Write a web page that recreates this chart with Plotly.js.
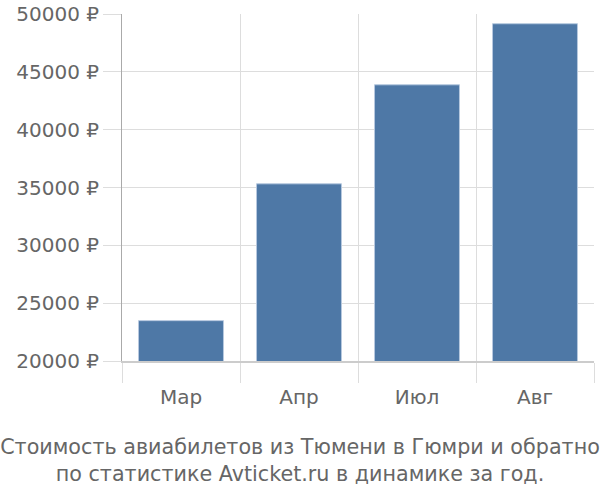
<!DOCTYPE html>
<html>
<head>
<meta charset="utf-8">
<script src="https://cdn.plot.ly/plotly-3.0.1.min.js"></script>
<style>
  html, body { margin: 0; padding: 0; background: #fff; }
  #chart { width: 600px; height: 500px; }
</style>
</head>
<body>
<div id="chart"></div>
<script>
// месяцы и средняя стоимость билетов
var months = ['Мар', 'Апр', 'Июл', 'Авг'];
var prices = [23490, 35320, 43880, 49160];
var yTicks = [20000, 25000, 30000, 35000, 40000, 45000, 50000];

var trace = {
  x: months,
  y: prices,
  type: 'bar',
  marker: { color: '#4e78a6', line: { color: '#b7c9df', width: 1 } },
  hoverinfo: 'x+y'
};

var layout = {
  width: 600,
  height: 500,
  margin: { l: 122, r: 6, t: 14, b: 138.5 },
  paper_bgcolor: '#fff',
  plot_bgcolor: '#fff',
  font: { family: '"DejaVu Sans", sans-serif', size: 20, color: '#666' },
  bargap: 0.28,
  showlegend: false,
  title: {
    text: 'Стоимость авиабилетов из Тюмени в Гюмри и обратно<br>по статистике Avticket.ru в динамике за год.',
    font: { size: 20.7, color: '#666' },
    x: 0.5, xanchor: 'center',
    y: 0.092, yanchor: 'middle', yref: 'container'
  },
  xaxis: {
    type: 'category',
    tickson: 'boundaries',
    ticks: 'outside',
    ticklen: 20,
    tickcolor: '#ddd',
    ticklabelstandoff: 17,
    showgrid: true,
    gridcolor: '#ddd',
    gridwidth: 1,
    showline: true,
    linecolor: '#ccc',
    linewidth: 2,
    tickfont: { size: 20, color: '#666' }
  },
  yaxis: {
    range: [20000, 50000],
    tickmode: 'array',
    tickvals: yTicks,
    ticktext: yTicks.map(function (v) { return v + ' ₽'; }),
    ticks: 'outside',
    ticklen: 18,
    tickcolor: '#ddd',
    showgrid: true,
    gridcolor: '#ddd',
    gridwidth: 1,
    zeroline: false,
    showline: true,
    linecolor: '#aaa',
    linewidth: 1,
    tickfont: { size: 20, color: '#666' }
  }
};

Plotly.newPlot('chart', [trace], layout, { displayModeBar: false, staticPlot: true });
</script>
</body>
</html>
